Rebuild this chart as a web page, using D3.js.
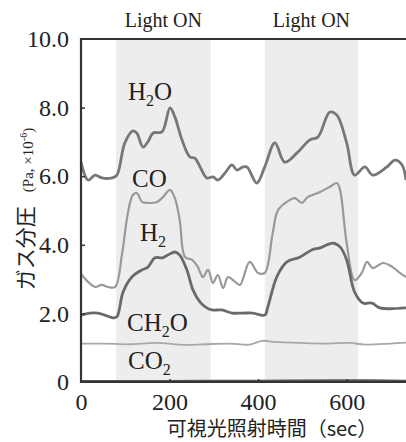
<!DOCTYPE html>
<html>
<head>
<meta charset="utf-8">
<script src="https://cdn.jsdelivr.net/npm/d3@7"></script>
<style>
  body { margin: 0; background: #fff; }
</style>
</head>
<body>
<div id="chart"></div>
<script>
// data
const lightOn = [[79, 293], [415, 626]];
const xTicks = [0, 200, 400, 600];
const yTicks = [0, 2, 4, 6, 8, 10];

const h2oX = [0, 16, 32, 47, 70, 81, 99, 117, 126, 140, 151, 163, 183, 201, 212, 228, 246, 257, 269, 284, 298, 309, 325, 341, 352, 366, 375, 397, 415, 438, 460, 488, 517, 535, 562, 578, 600, 618, 641, 659, 691, 709, 725, 734];
const h2oY = [6.41, 5.89, 6.03, 5.95, 5.95, 6.03, 6.97, 7.32, 7.26, 6.85, 7.0, 7.26, 7.29, 7.99, 7.73, 7.06, 6.56, 6.53, 6.27, 5.95, 5.98, 5.89, 6.09, 6.33, 6.18, 6.27, 6.27, 5.8, 6.27, 6.97, 6.41, 6.68, 7.06, 7.14, 7.87, 7.78, 6.97, 6.03, 6.27, 6.03, 6.27, 6.47, 6.33, 5.89];

const coX = [0, 16, 32, 47, 61, 77, 93, 106, 117, 126, 138, 151, 172, 185, 201, 212, 223, 235, 251, 264, 275, 287, 298, 309, 321, 332, 348, 359, 381, 400, 415, 433, 445, 472, 483, 499, 512, 540, 562, 578, 585, 600, 618, 634, 646, 659, 682, 704, 720, 734];
const coY = [3.15, 2.92, 2.77, 2.83, 2.77, 2.77, 3.76, 4.93, 5.45, 5.51, 5.25, 5.22, 5.25, 5.39, 5.6, 5.36, 4.72, 3.64, 3.56, 3.35, 3.06, 3.27, 2.89, 3.12, 2.74, 3.06, 2.92, 2.83, 3.5, 3.18, 3.18, 4.34, 5.01, 5.31, 5.36, 5.22, 5.39, 5.54, 5.69, 5.8, 5.6, 4.05, 2.97, 3.18, 3.5, 3.32, 3.47, 3.35, 3.18, 3.06];

const h2X = [0, 20, 38, 54, 72, 81, 95, 115, 138, 151, 167, 183, 196, 212, 223, 239, 253, 269, 284, 296, 318, 341, 366, 388, 415, 422, 442, 465, 494, 521, 540, 569, 585, 600, 618, 637, 657, 675, 734];
const h2Y = [1.95, 2.01, 2.01, 1.95, 1.87, 1.9, 2.62, 3.06, 3.27, 3.35, 3.62, 3.62, 3.7, 3.79, 3.7, 3.27, 2.68, 2.33, 2.16, 2.1, 2.1, 2.01, 2.01, 2.01, 1.95, 2.19, 3.06, 3.5, 3.64, 3.85, 3.91, 4.05, 3.94, 3.56, 2.62, 2.3, 2.3, 2.16, 2.16];

const ch2oX = [0, 54, 111, 167, 235, 280, 336, 381, 409, 438, 494, 551, 607, 641, 698, 734];
const ch2oY = [1.12, 1.12, 1.1, 1.14, 1.08, 1.1, 1.12, 1.09, 1.2, 1.17, 1.14, 1.12, 1.14, 1.09, 1.12, 1.15];

const co2X = [0, 200, 400, 600, 734];
const co2Y = [0.03, 0.03, 0.04, 0.05, 0.04];

const serif = "Liberation Serif";
const jp = "Noto Sans CJK JP";

const W = 406, H = 442;
const svg = d3.select("#chart").append("svg")
    .attr("width", W)
    .attr("height", H);

const x = d3.scaleLinear().domain([0, 734]).range([81, 406]);
const y = d3.scaleLinear().domain([0, 10]).range([382, 39]);

// light on shading
svg.selectAll("rect.light")
    .data(lightOn)
    .enter().append("rect")
    .attr("class", "light")
    .attr("x", d => x(d[0]))
    .attr("width", d => x(d[1]) - x(d[0]))
    .attr("y", y(10))
    .attr("height", y(0) - y(10))
    .style("fill", "#ededed");

svg.selectAll("text.light")
    .data(lightOn)
    .enter().append("text")
    .attr("class", "light")
    .attr("x", d => (x(d[0]) + x(d[1])) / 2)
    .attr("y", 27)
    .attr("text-anchor", "middle")
    .attr("font-family", serif)
    .attr("font-size", 20)
    .attr("fill", "#222")
    .text("Light ON");

// series
const series = [
    {xs: ch2oX, ys: ch2oY, color: "#a8a8a8", w: 1.8},
    {xs: co2X, ys: co2Y, color: "#555", w: 2},
    {xs: coX, ys: coY, color: "#999", w: 2.2},
    {xs: h2X, ys: h2Y, color: "#6a6a6a", w: 2.8},
    {xs: h2oX, ys: h2oY, color: "#777", w: 2.8}
];

const line = d3.line()
    .x(d => x(d[0]))
    .y(d => y(d[1]))
    .curve(d3.curveCatmullRom.alpha(0.5));

svg.selectAll("path.series")
    .data(series)
    .enter().append("path")
    .attr("class", "series")
    .attr("d", s => line(s.xs.map((v, i) => [v, s.ys[i]])))
    .style("fill", "none")
    .style("stroke", s => s.color)
    .style("stroke-width", s => s.w)
    .style("stroke-linejoin", "round");

// axes
const yAxis = d3.axisLeft(y)
    .tickValues(yTicks)
    .tickSize(-4)
    .tickPadding(12)
    .tickFormat(d => d === 0 ? "0" : d3.format(".1f")(d));

const gy = svg.append("g")
    .attr("transform", "translate(81,0)")
    .call(yAxis);

const xAxis = d3.axisBottom(x)
    .tickValues(xTicks)
    .tickSize(-3)
    .tickPadding(11);

const gx = svg.append("g")
    .attr("transform", "translate(0,382)")
    .call(xAxis);

[gx, gy].forEach(g => {
    g.attr("font-family", serif).attr("font-size", 24);
    g.select(".domain").remove();
    g.selectAll("line").attr("stroke", "#333").attr("stroke-width", 1.5);
    g.selectAll("text").attr("fill", "#222");
});
gy.selectAll(".tick").filter(d => d === 0 || d === 10).select("line").remove();
gx.selectAll(".tick").filter(d => d === 0).select("line").remove();

// frame
svg.append("path")
    .attr("d", `M${x(734)},${y(10)}H81V${y(0)}H${x(734)}`)
    .style("fill", "none")
    .style("stroke", "#333")
    .style("stroke-width", 2.2);

// series labels
function label(px, py, parts) {
    const t = svg.append("text")
        .attr("x", px)
        .attr("y", py)
        .attr("font-family", serif)
        .attr("font-size", 25)
        .attr("fill", "#222");
    parts.forEach(p => {
        if (p[1]) {
            t.append("tspan").attr("dy", 6).attr("font-size", 16).text(p[0]);
        } else {
            t.append("tspan").attr("dy", p[2] || 0).text(p[0]);
        }
    });
}
label(128, 100, [["H"], ["2", true], ["O", false, -6]]);
label(132, 187, [["CO"]]);
label(140, 241, [["H"], ["2", true]]);
label(127, 331, [["CH"], ["2", true], ["O", false, -6]]);
label(128, 369, [["CO"], ["2", true]]);

// axis titles
svg.append("text")
    .attr("x", 272)
    .attr("y", 436)
    .attr("text-anchor", "middle")
    .attr("font-family", jp)
    .attr("font-size", 20)
    .attr("fill", "#222")
    .text("可視光照射時間（sec）");

const yt = svg.append("text")
    .attr("transform", "translate(33,209) rotate(-90)")
    .attr("text-anchor", "middle")
    .attr("fill", "#222");
yt.append("tspan")
    .attr("font-family", jp)
    .attr("font-size", 21)
    .text("ガス分圧");
yt.append("tspan")
    .attr("font-family", serif)
    .attr("font-size", 15)
    .attr("dx", 14)
    .text("(Pa, ×10");
yt.append("tspan")
    .attr("font-family", serif)
    .attr("font-size", 10)
    .attr("dy", -6)
    .text("-6");
yt.append("tspan")
    .attr("font-family", serif)
    .attr("font-size", 15)
    .attr("dy", 6)
    .text(")");
</script>
</body>
</html>
